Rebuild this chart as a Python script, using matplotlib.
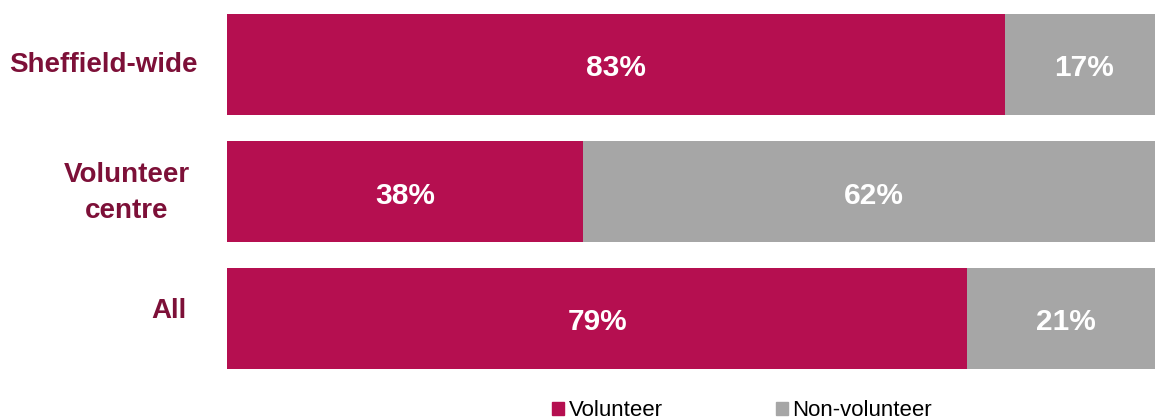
import matplotlib.pyplot as plt
import matplotlib.transforms as mtransforms
from matplotlib.patches import Patch

plt.rcParams['font.family'] = ['Liberation Sans', 'DejaVu Sans']

categories = ['Sheffield-wide', 'Volunteer\ncentre', 'All']
volunteer = [83, 38, 79]
non_volunteer = [17, 62, 21]

c_vol = '#B50F50'
c_non = '#A6A6A6'
c_lab = '#7D1038'

fig = plt.figure(figsize=(11.55, 4.2), dpi=100)
# axes run a little past the right edge of the figure
ax = fig.add_axes([227 / 1155, 1 - 382 / 420, 937 / 1155, 381 / 420])

y = [0, 1, 2]
ax.barh(y, volunteer, height=0.795, color=c_vol, edgecolor='none')
ax.barh(y, non_volunteer, left=volunteer, height=0.795, color=c_non, edgecolor='none')

down = mtransforms.ScaledTranslation(0, -0.04, fig.dpi_scale_trans)
for i in range(len(categories)):
    ax.text(volunteer[i] / 2, y[i], '%d%%' % volunteer[i], ha='center', va='center',
            color='white', fontsize=21.5, fontweight='bold', transform=ax.transData + down)
    ax.text(volunteer[i] + non_volunteer[i] / 2, y[i], '%d%%' % non_volunteer[i],
            ha='center', va='center', color='white', fontsize=21.5, fontweight='bold',
            transform=ax.transData + down)

ax.set_xlim(0, 100)
ax.set_ylim(2.5, -0.5)
ax.set_yticks(y)
ax.set_yticklabels(categories, fontsize=20, fontweight='bold', color=c_lab,
                   multialignment='center', linespacing=1.45)
ax.tick_params(axis='y', length=0, pad=21)
ax.set_xticks([])
for s in ax.spines.values():
    s.set_visible(False)
# nudge the labels slightly as laid out (pixels)
offsets = [(0, 2), (-8, 6), (-11, 11)]
for lab, (dx, dy) in zip(ax.get_yticklabels(), offsets):
    lab.set_transform(lab.get_transform() + mtransforms.ScaledTranslation(dx / 100, dy / 100, fig.dpi_scale_trans))

handles = [Patch(color=c_vol, label='Volunteer'), Patch(color=c_non, label='Non-volunteer')]
fig.legend(handles=handles, loc='center left', bbox_to_anchor=(543 / 1155, 1 - 411 / 420),
           ncol=2, frameon=False, fontsize=16, handlelength=0.55, handleheight=0.55,
           handletextpad=0.2, columnspacing=5.1, borderaxespad=0)

fig.savefig('out.png', dpi=100)
